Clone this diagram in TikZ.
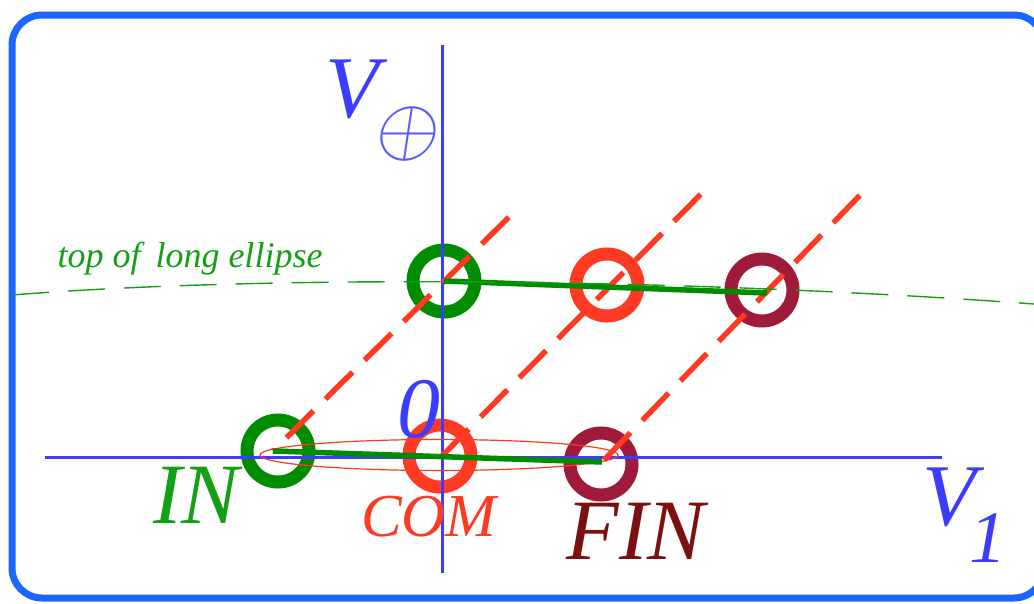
\documentclass[tikz,border=0pt]{standalone}
\usepackage{fontspec}
\setmainfont{Liberation Serif}
\usetikzlibrary{positioning}
\definecolor{frameblue}{HTML}{1A66FF}
\definecolor{axisblue}{HTML}{3C3CFF}
\definecolor{ingreen}{HTML}{008C00}
\definecolor{labgreen}{HTML}{14A014}
\definecolor{comred}{HTML}{FF3A22}
\definecolor{finmaroon}{HTML}{A01A3A}
\definecolor{fintext}{HTML}{7A1010}

\begin{document}
\begin{tikzpicture}[x=1pt,y=-1pt,
  ring/.style={circle,draw=#1,line width=13pt,minimum size=62pt,inner sep=0pt},
  axis/.style={axisblue,line width=3pt},
  slide/.style={comred,line width=5.5pt,dash pattern=on 38pt off 17pt},
  track/.style={ingreen,line width=5.5pt},
  lab/.style={inner sep=0pt,font=\itshape\fontsize{#1}{#1}\selectfont}]
\useasboundingbox (0,0) rectangle (1034,603);
\draw[frameblue,line width=7pt,rounded corners=30pt] (12,15) rectangle (1044,598);
% rings
\node[ring=ingreen] (in) at (278,451) {};
\node[ring=comred] (com) at (440,456) {};
\node[ring=finmaroon] (fin) at (601,464) {};
\node[ring=ingreen] (intop) at (444,281) {};
\node[ring=comred] (comtop) at (607,285) {};
\node[ring=finmaroon] (fintop) at (762,290) {};
% axes
\coordinate (xl) at (45,457);
\coordinate (xr) at (942,457);
\coordinate (yb) at (442,573);
\coordinate (yt) at (442,45);
\draw[axis] (xl) -- (xr);
\draw[axis] (yb) -- (yt);
\draw[comred,line width=1.2pt] (439,455) ellipse [x radius=179pt,y radius=15.5pt];
% dashed diagonals
\coordinate (inend) at (509,217);
\coordinate (comend) at (703,192);
\coordinate (finend) at (865,190);
\draw[slide,dash phase=36pt] (273,451) -- (inend);
\draw[slide] (442,456) -- (comend);
\draw[slide] (604,460) -- (finend);
% green tracks
\draw[track] (273,451) -- (602,462);
\draw[track] (444,281) -- (767,293);
\draw[labgreen,line width=1.4pt,dash pattern=on 37pt off 19pt] (12,295) .. controls (250,276) and (650,276) .. (1034,304);
% labels
\node[lab=36,labgreen] (toplab) at (190,259) {top of\, long ellipse};
\node[lab=88,axisblue] (vplus) at (352,89) {V};
\node[inner sep=0pt,text=axisblue!85,scale=8.2,xslant=0.15] (oplus) at (408,134) {$\oplus$};
\node[lab=86,axisblue] (zero) at (419,409) {0};
\node[lab=86,labgreen] (inlab) at (196,495) {IN};
\node[lab=61,comred] (comlab) at (429,517) {COM};
\node[lab=86,fintext] (finlab) at (636,531) {FIN};
\node[lab=88,axisblue] (vone) at (949,497) {V};
\node[lab=74,axisblue] (one) at (988,538) {1};
\end{tikzpicture}
\end{document}
